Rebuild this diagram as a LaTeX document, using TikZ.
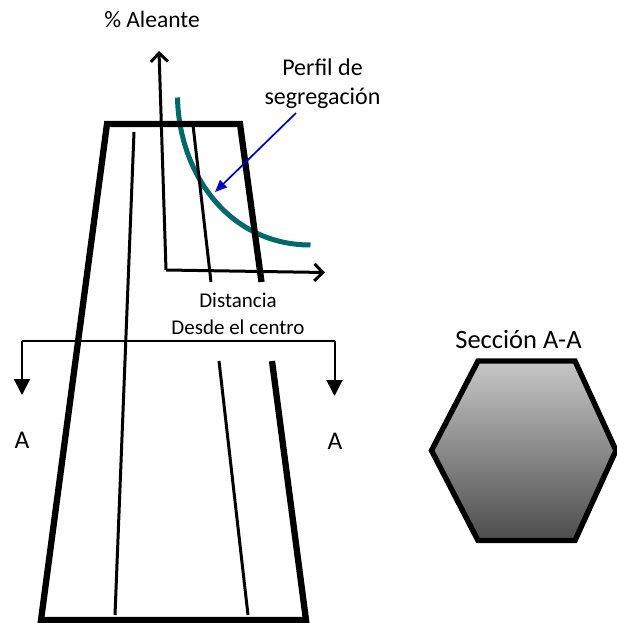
\documentclass[tikz,border=0pt]{standalone}
\usepackage{fontspec}
\setmainfont{Carlito}
\usetikzlibrary{arrows.meta}
\definecolor{tealc}{HTML}{006A6A}
\definecolor{bluec}{HTML}{0000CC}
\tikzset{
  thickwall/.style={line width=6.3pt,line cap=butt,line join=miter},
  thinwall/.style={line width=3pt},
  axisline/.style={line width=3pt,-{Straight Barb[length=8.5pt,width=17pt,line width=3pt]}},
  secline/.style={line width=2pt,-{Triangle[length=16pt,width=16pt]}},
  lab/.style={inner sep=0pt,align=center},
}
\begin{document}
\begin{tikzpicture}[x=1pt,y=-1pt]
\useasboundingbox (0,0) rectangle (616,623);
% coordinates
\coordinate (tl) at (107,124);
\coordinate (tr) at (240,124);
\coordinate (trb) at (261.5,282);
\coordinate (brt) at (272,361);
\coordinate (br) at (306,620);
\coordinate (bl) at (41,620);
\coordinate (ila) at (134,132);
\coordinate (ilb) at (115,615);
\coordinate (ira) at (193,125);
\coordinate (irb) at (211,282);
\coordinate (irc) at (219,361);
\coordinate (ird) at (248,615);
\coordinate (ax0) at (166,270);
\coordinate (axy) at (159,51);
\coordinate (axx) at (325,272.5);
\coordinate (sa) at (22,341);
\coordinate (sb) at (334.5,341);
\coordinate (sad) at (22,395);
\coordinate (sbd) at (334.5,396);
\coordinate (pa) at (296,113);
\coordinate (pb) at (215,192);
% hexagon
\draw[line width=5.4pt,line join=miter,top color=black!22,bottom color=black!70,shading angle=0]
  (478,361) -- (575,361) -- (616,450.5) -- (575,540.5) -- (478,540.5) -- (431.5,450.5) -- cycle;
% profile
\draw[color=tealc,line width=5pt] (177.5,97.5) .. controls (179,175) and (230,245) .. (310.5,245);
% ingot
\draw[thinwall] (ila) -- (ilb);
\draw[thinwall] (ira) -- (irb);
\draw[thinwall] (irc) -- (ird);
\draw[thickwall] (trb) -- (tr) -- (tl) -- (bl) -- (br) -- (brt);
% axes
\draw[axisline] (ax0) -- (axy);
\draw[axisline] (ax0) -- (axx);
% blue pointer
\draw[color=bluec,line width=1.7pt,-{Triangle[length=12pt,width=10pt]}] (pa) -- (pb);
% section
\draw[secline] (sa) -- (sad);
\draw[secline] (sb) -- (sbd);
\draw[line width=2pt] (sa) -- (sb);
% text
\node[lab,font=\fontsize{23.5}{28}\selectfont] (t1) at (152,19) {\% Aleante};
\node[lab,font=\fontsize{24}{29}\selectfont] (t2) at (322.5,84) {Perfil de\\segregación};
\node[lab,font=\fontsize{21}{27}\selectfont] (t3) at (238,313.5) {Distancia\\Desde el centro};
\node[lab,font=\fontsize{26.5}{30}\selectfont] (t4) at (518.5,339.5) {Sección A-A};
\node[lab,font=\fontsize{25.5}{28}\selectfont] (t5) at (22,440) {A};
\node[lab,font=\fontsize{25.5}{28}\selectfont] (t6) at (335,441) {A};
\end{tikzpicture}
\end{document}
